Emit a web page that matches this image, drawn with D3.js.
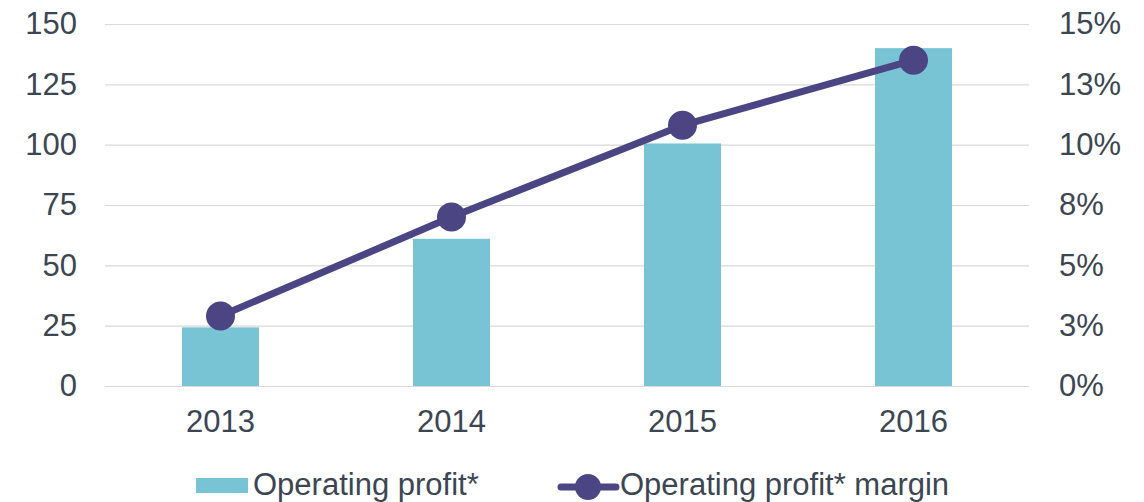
<!DOCTYPE html>
<html>
<head>
<meta charset="utf-8">
<script src="https://cdn.jsdelivr.net/npm/d3@7"></script>
<style>
  body { margin: 0; background: #fff; }
  text { font-family: "Liberation Sans", Arial, sans-serif; fill: #3b4652; }
</style>
</head>
<body>
<svg id="chart" width="1144" height="502"></svg>
<script>
'use strict'

const years = ['2013', '2014', '2015', '2016']
const profit = [24.3, 61, 100.5, 140]
const margin = [2.9, 7.0, 10.8, 13.5]
const leftTicks = [0, 25, 50, 75, 100, 125, 150]
const rightTicks = [0, 2.5, 5, 7.5, 10, 12.5, 15]

const barColor = '#79c4d4'
const lineColor = '#4b4584'

const svg = d3.select('#chart')

const x = d3.scaleBand()
    .domain(years)
    .range([105, 1029])
    .paddingInner(2 / 3)
    .paddingOuter(1 / 3)

const y = d3.scaleLinear().domain([0, 150]).range([386, 24])
const y2 = d3.scaleLinear().domain([0, 15]).range([386, 24])

// gridlines
svg.append('g')
    .selectAll('line')
    .data(leftTicks)
    .join('line')
    .attr('x1', 105)
    .attr('x2', 1029)
    .attr('y1', d => y(d) + 0.5)
    .attr('y2', d => y(d) + 0.5)
    .attr('stroke', '#d9d9d9')
    .attr('stroke-width', 1.2)

// left axis
const leftAxis = svg.append('g')
    .attr('transform', 'translate(77,0)')
    .call(d3.axisLeft(y).tickValues(leftTicks).tickSize(0).tickPadding(0))
leftAxis.select('.domain').remove()
leftAxis.selectAll('text').attr('font-size', 31).attr('font-family', null)

// right axis
const rightAxis = svg.append('g')
    .attr('transform', 'translate(1059,0)')
    .call(d3.axisRight(y2).tickValues(rightTicks).tickSize(0).tickPadding(0)
        .tickFormat(d => Math.round(d) + '%'))
rightAxis.select('.domain').remove()
rightAxis.selectAll('text').attr('font-size', 31).attr('font-family', null)

// bottom axis
const bottomAxis = svg.append('g')
    .attr('transform', 'translate(0,386)')
    .call(d3.axisBottom(x).tickSize(0).tickPadding(24))
bottomAxis.select('.domain').remove()
bottomAxis.selectAll('text').attr('font-size', 31).attr('font-family', null)

// bars
svg.append('g')
    .selectAll('rect')
    .data(years)
    .join('rect')
    .attr('x', d => x(d))
    .attr('width', x.bandwidth())
    .attr('y', (d, i) => y(profit[i]))
    .attr('height', (d, i) => y(0) - y(profit[i]))
    .attr('fill', barColor)

// margin line
const line = d3.line()
    .x((d, i) => x(years[i]) + x.bandwidth() / 2)
    .y(d => y2(d))

svg.append('path')
    .datum(margin)
    .attr('d', line)
    .attr('fill', 'none')
    .attr('stroke', lineColor)
    .attr('stroke-width', 7)

svg.append('g')
    .selectAll('circle')
    .data(margin)
    .join('circle')
    .attr('cx', (d, i) => x(years[i]) + x.bandwidth() / 2)
    .attr('cy', d => y2(d))
    .attr('r', 14.5)
    .attr('fill', lineColor)

// legend
const legend = svg.append('g')
legend.append('rect')
    .attr('x', 196).attr('y', 478)
    .attr('width', 52).attr('height', 15)
    .attr('fill', barColor)
legend.append('text')
    .attr('x', 253).attr('y', 495)
    .attr('font-size', 31)
    .text('Operating profit*')

legend.append('line')
    .attr('x1', 561).attr('x2', 616)
    .attr('y1', 487).attr('y2', 487)
    .attr('stroke', lineColor)
    .attr('stroke-width', 7)
    .attr('stroke-linecap', 'round')
legend.append('circle')
    .attr('cx', 588).attr('cy', 487)
    .attr('r', 13)
    .attr('fill', lineColor)
legend.append('text')
    .attr('x', 620).attr('y', 495)
    .attr('font-size', 31)
    .text('Operating profit* margin')
</script>
</body>
</html>
